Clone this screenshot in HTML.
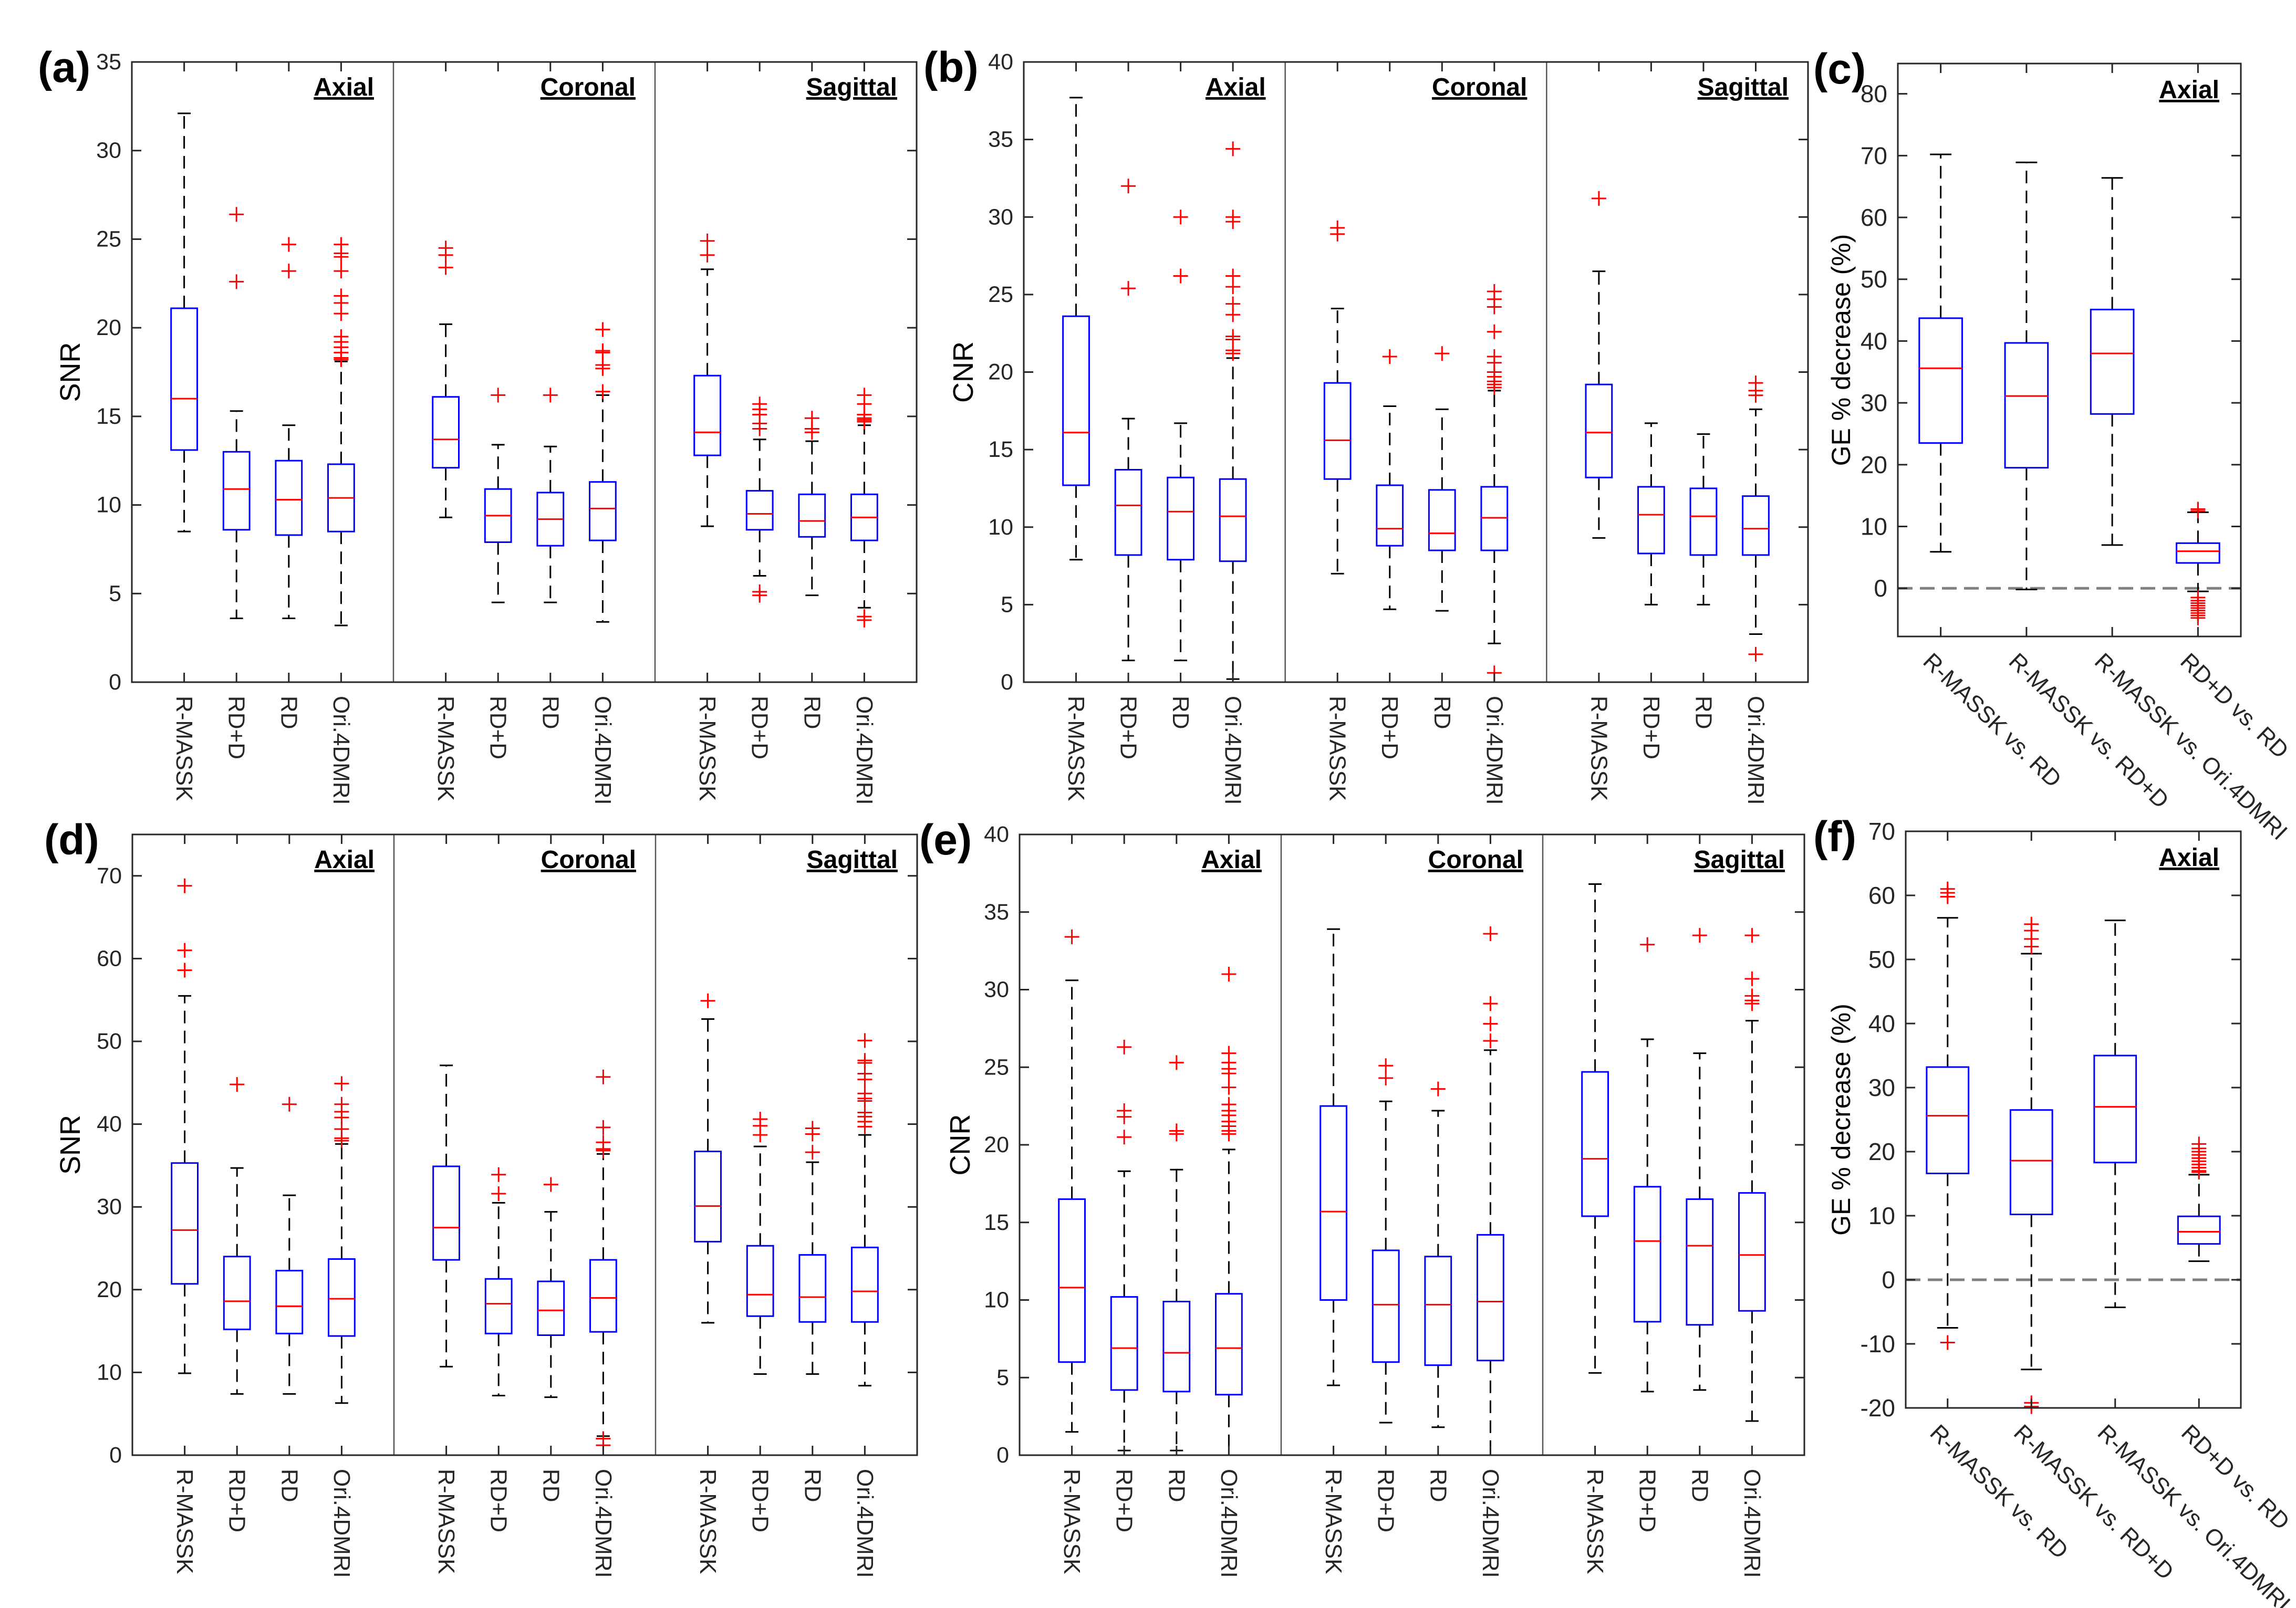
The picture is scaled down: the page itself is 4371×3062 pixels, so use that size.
<!DOCTYPE html>
<html><head><meta charset="utf-8"><title>Box plots</title>
<style>html,body{margin:0;padding:0;background:#fff}svg{display:block;font-family:"Liberation Sans",Arial,sans-serif}</style>
</head><body>
<svg id="fig" xmlns="http://www.w3.org/2000/svg" width="4371" height="3062" viewBox="0 0 4371 3062"></svg>
<script>
// ---------- DATA ----------
const boxCats = ["R-MASSK","RD+D","RD","Ori.4DMRI"];
const viewNames = ["Axial","Coronal","Sagittal"];
const geCats = ["R-MASSK vs. RD","R-MASSK vs. RD+D","R-MASSK vs. Ori.4DMRI","RD+D vs. RD"];

// (a) SNR
const aHi  = [32.1,15.3,14.5,18.1, 20.2,13.4,13.3,16.2, 23.3,13.7,13.6,14.5];
const aQ3  = [21.1,13.0,12.5,12.3, 16.1,10.9,10.7,11.3, 17.3,10.8,10.6,10.6];
const aMed = [16.0,10.9,10.3,10.4, 13.7,9.4,9.2,9.8, 14.1,9.5,9.1,9.3];
const aQ1  = [13.1,8.6,8.3,8.5, 12.1,7.9,7.7,8.0, 12.8,8.6,8.2,8.0];
const aLo  = [8.5,3.6,3.6,3.2, 9.3,4.5,4.5,3.4, 8.8,6.0,4.9,4.2];
const aOut = [[],[26.4,22.6],[24.7,23.2],[24.7,24.2,24.0,23.2,21.8,21.4,20.8,19.5,19.2,18.9,18.6,18.3,18.2],
  [24.5,24.1,23.4],[16.2],[16.2],[19.9,18.7,18.6,17.9,17.7,16.4],
  [24.9,24.1],[15.7,15.4,15.1,14.6,14.3,5.1,4.9],[14.9,14.3,14.1],[16.2,15.7,15.1,14.9,14.8,14.7,3.7,3.5]];
const aTicks = [0,5,10,15,20,25,30,35];

// (b) CNR
const bHi  = [37.7,17.0,16.7,20.9, 24.1,17.8,17.6,18.8, 26.5,16.7,16.0,17.6];
const bQ3  = [23.6,13.7,13.2,13.1, 19.3,12.7,12.4,12.6, 19.2,12.6,12.5,12.0];
const bMed = [16.1,11.4,11.0,10.7, 15.6,9.9,9.6,10.6, 16.1,10.8,10.7,9.9];
const bQ1  = [12.7,8.2,7.9,7.8, 13.1,8.8,8.5,8.5, 13.2,8.3,8.2,8.2];
const bLo  = [7.9,1.4,1.4,0.2, 7.0,4.7,4.6,2.5, 9.3,5.0,5.0,3.1];
const bOut = [[],[32.0,25.4],[30.0,26.2],[34.4,30.0,29.7,26.2,25.5,24.4,23.7,22.3,22.1,21.4,21.2],
  [29.3,28.9],[21.0],[21.2],[25.2,24.7,24.2,22.6,21.0,20.6,20.0,19.7,19.4,19.2,19.0,0.6],
  [31.2],[],[],[19.3,18.8,18.5,1.8]];
const bTicks = [0,5,10,15,20,25,30,35,40];

// (c) GE
const cHi  = [70.2,68.9,66.4,12.3];
const cQ3  = [43.7,39.7,45.1,7.3];
const cMed = [35.6,31.1,38.0,6.0];
const cQ1  = [23.5,19.5,28.2,4.1];
const cLo  = [5.9,-0.2,7.0,-0.5];
const cOut = [[],[],[],[12.5,12.8,-1.5,-2.0,-2.4,-2.8,-3.2,-3.6,-4.0,-4.4,-4.8]];
const cTicks = [0,10,20,30,40,50,60,70,80];

// (d) SNR
const dHi  = [55.5,34.7,31.4,37.6, 47.1,30.5,29.4,36.4, 52.7,37.3,35.4,38.7];
const dQ3  = [35.3,24.0,22.3,23.7, 34.9,21.3,21.0,23.6, 36.7,25.3,24.2,25.1];
const dMed = [27.2,18.6,18.0,18.9, 27.5,18.3,17.5,19.0, 30.1,19.4,19.1,19.8];
const dQ1  = [20.7,15.2,14.7,14.4, 23.6,14.7,14.5,14.9, 25.8,16.8,16.1,16.1];
const dLo  = [9.9,7.4,7.4,6.3, 10.7,7.2,7.0,2.3, 16.0,9.8,9.8,8.4];
const dOut = [[68.8,61.0,58.6],[44.8],[42.4],[44.9,42.4,41.5,40.8,39.4,38.3,38.0],
  [],[33.9,31.6],[32.7],[45.7,39.6,37.8,37.0,36.8,2.0,1.2],
  [54.9],[40.6,39.8,38.7],[39.5,38.8,36.6],[50.1,47.7,47.4,46.1,45.4,43.7,43.1,42.8,41.4,40.9,40.3,39.7]];
const dTicks = [0,10,20,30,40,50,60,70];

// (e) CNR
const eHi  = [30.6,18.3,18.4,19.7, 33.9,22.8,22.2,26.1, 36.8,26.8,25.9,28.0];
const eQ3  = [16.5,10.2,9.9,10.4, 22.5,13.2,12.8,14.2, 24.7,17.3,16.5,16.9];
const eMed = [10.8,6.9,6.6,6.9, 15.7,9.7,9.7,9.9, 19.1,13.8,13.5,12.9];
const eQ1  = [6.0,4.2,4.1,3.9, 10.0,6.0,5.8,6.1, 15.4,8.6,8.4,9.3];
const eLo  = [1.5,0.3,0.3,0.0, 4.5,2.1,1.8,0.0, 5.3,4.1,4.2,2.2];
const eOut = [[33.4],[26.3,22.2,21.8,20.5],[25.3,20.9,20.7],[31.0,25.9,25.3,24.9,24.6,23.7,22.6,22.2,21.9,21.5,21.2,20.9,20.7],
  [],[25.1,24.3],[23.6],[33.6,29.1,27.8,26.7],
  [],[32.9],[33.5],[33.5,30.7,29.6,29.3,29.1]];
const eTicks = [0,5,10,15,20,25,30,35,40];

// (f) GE
const fHi  = [56.5,50.9,56.1,16.4];
const fQ3  = [33.2,26.5,35.0,9.9];
const fMed = [25.6,18.6,27.0,7.5];
const fQ1  = [16.6,10.2,18.3,5.6];
const fLo  = [-7.5,-14.0,-4.3,2.9];
const fOut = [[61.0,60.4,59.8,-9.8],[55.5,54.5,53.2,52.0,-19.2,-19.8],[],[21.2,20.5,20.0,19.5,19.0,18.5,18.0,17.5,17.0,16.8]];
const fTicks = [-20,-10,0,10,20,30,40,50,60,70];

// ---------- DRAWING ----------
const NS = "http://www.w3.org/2000/svg";
const svg = document.getElementById('fig');
function mk(tag, attrs, parent){
  const el = document.createElementNS(NS, tag);
  for (const k in attrs) el.setAttribute(k, attrs[k]);
  (parent||svg).appendChild(el);
  return el;
}
const AX = "#262626";

function drawPanel(cfg, hi, q3, med, q1, lo, out, ticks, cats){
  const g = mk('g', {});
  
  
  const {x0,x1,y0,y1,vmin,vmax} = cfg;
  const yS = v => y1 - (v - vmin) / (vmax - vmin) * (y1 - y0);
  const nSlots = cfg.views ? 15 : 4;
  const slot = (x1 - x0) / nSlots;
  const xS = i => cfg.views ? x0 + (1 + i + Math.floor(i/4)) * slot : x0 + (i + 0.5) * slot;

  if (cfg.zero){
    const z = mk('line', {x1:x0, x2:x1, y1:yS(0), y2:yS(0), stroke:'#808080', 'stroke-width':5, 'stroke-dasharray':'28 14'}, g);
    
    
  }
  if (cfg.views){
    [5,10].forEach(k => {
      const s = mk('line', {x1:x0+k*slot, x2:x0+k*slot, y1:y0, y2:y1, stroke:'#555', 'stroke-width':2.5}, g);
      
      
    });
    viewNames.forEach((v,k) => {
      const t = mk('text', {x:x0+(k+1)*5*slot-37, y:y0+64, 'text-anchor':'end', 'font-size':48, 'font-weight':'bold', 'text-decoration':'underline', fill:'#000'}, g);
      t.textContent = v;
      
      
    });
  } else {
    const t = mk('text', {x:x1-41, y:y0+66, 'text-anchor':'end', 'font-size':48, 'font-weight':'bold', 'text-decoration':'underline', fill:'#000'}, g);
    t.textContent = 'Axial';
    
    
  }
  for (let i = 0; i < hi.length; i++){
    const cx = xS(i), bw = slot*0.5, cw = slot*0.25;
    const bg = mk('g', {}, g);
    
    
    mk('line', {x1:cx, x2:cx, y1:yS(q3[i]), y2:yS(hi[i]), stroke:'#000', 'stroke-width':3, 'stroke-dasharray':'24 14'}, bg);
    mk('line', {x1:cx, x2:cx, y1:yS(q1[i]), y2:yS(lo[i]), stroke:'#000', 'stroke-width':3, 'stroke-dasharray':'24 14'}, bg);
    mk('line', {x1:cx-cw/2, x2:cx+cw/2, y1:yS(hi[i]), y2:yS(hi[i]), stroke:'#000', 'stroke-width':3}, bg);
    mk('line', {x1:cx-cw/2, x2:cx+cw/2, y1:yS(lo[i]), y2:yS(lo[i]), stroke:'#000', 'stroke-width':3}, bg);
    mk('rect', {x:cx-bw/2, y:yS(q3[i]), width:bw, height:yS(q1[i])-yS(q3[i]), fill:'none', stroke:'#0000ff', 'stroke-width':3}, bg);
    mk('line', {x1:cx-bw/2, x2:cx+bw/2, y1:yS(med[i]), y2:yS(med[i]), stroke:'#ff0000', 'stroke-width':3}, bg);
    out[i].forEach(v => {
      const p = mk('path', {d:`M${cx-14},${yS(v)}H${cx+14}M${cx},${yS(v)-14}V${yS(v)+14}`, stroke:'#ff0000', 'stroke-width':3, fill:'none'}, bg);
      
      
    });
  }
  const fr = mk('rect', {x:x0, y:y0, width:x1-x0, height:y1-y0, fill:'none', stroke:AX, 'stroke-width':3}, g);
  
  
  ticks.forEach(v => {
    const y = yS(v);
    mk('line', {x1:x0, x2:x0+18, y1:y, y2:y, stroke:AX, 'stroke-width':3}, g);
    mk('line', {x1:x1, x2:x1-18, y1:y, y2:y, stroke:AX, 'stroke-width':3}, g);
    const t = mk('text', {x:x0-20, y:y, 'text-anchor':'end', 'dominant-baseline':'central', 'font-size':cfg.views?43:46, fill:AX}, g);
    t.textContent = v;
    
    
  });
  for (let i = 0; i < hi.length; i++){
    const cx = xS(i);
    mk('line', {x1:cx, x2:cx, y1:y1, y2:y1-18, stroke:AX, 'stroke-width':3}, g);
    mk('line', {x1:cx, x2:cx, y1:y0, y2:y0+18, stroke:AX, 'stroke-width':3}, g);
    let t;
    if (cfg.views){
      t = mk('text', {x:0, y:0, transform:`translate(${cx},${y1+26}) rotate(90)`, 'text-anchor':'start', 'dominant-baseline':'central', 'font-size':44, fill:AX}, g);
      t.textContent = cats[i % 4];
    } else {
      t = mk('text', {x:0, y:0, transform:`translate(${cx-26},${y1+40}) rotate(44)`, 'text-anchor':'start', 'dominant-baseline':'central', 'font-size':44, fill:AX}, g);
      t.textContent = cats[i];
    }
    
    
  }
  const yl = mk('text', {x:0, y:0, transform:`translate(${cfg.ylx},${(y0+y1)/2}) rotate(-90)`, 'text-anchor':'middle', 'dominant-baseline':'central', 'font-size':cfg.views?54:50, fill:'#000'}, g);
  yl.textContent = cfg.ylabel;
  
  
  const pl = mk('text', {x:cfg.lx, y:y0+38, 'font-size':82, 'font-weight':'bold', fill:'#000'}, g);
  pl.textContent = '(' + cfg.id + ')';
  
  
}

drawPanel({id:'a', x0:251, x1:1745, y0:118, y1:1299, vmin:0, vmax:35, views:true, ylabel:'SNR', ylx:134, lx:72}, aHi,aQ3,aMed,aQ1,aLo,aOut,aTicks,boxCats);
drawPanel({id:'b', x0:1949, x1:3442, y0:118, y1:1299, vmin:0, vmax:40, views:true, ylabel:'CNR', ylx:1834, lx:1758}, bHi,bQ3,bMed,bQ1,bLo,bOut,bTicks,boxCats);
drawPanel({id:'c', x0:3613, x1:4266, y0:121, y1:1212, vmin:-7.8, vmax:84.9, views:false, zero:true, ylabel:'GE % decrease (%)', ylx:3505, lx:3452}, cHi,cQ3,cMed,cQ1,cLo,cOut,cTicks,geCats);
drawPanel({id:'d', x0:252, x1:1746, y0:1589, y1:2771, vmin:0, vmax:75, views:true, ylabel:'SNR', ylx:134, lx:84}, dHi,dQ3,dMed,dQ1,dLo,dOut,dTicks,boxCats);
drawPanel({id:'e', x0:1941, x1:3435, y0:1589, y1:2771, vmin:0, vmax:40, views:true, ylabel:'CNR', ylx:1828, lx:1750}, eHi,eQ3,eMed,eQ1,eLo,eOut,eTicks,boxCats);
drawPanel({id:'f', x0:3628, x1:4266, y0:1583, y1:2681, vmin:-20, vmax:70, views:false, zero:true, ylabel:'GE % decrease (%)', ylx:3505, lx:3452}, fHi,fQ3,fMed,fQ1,fLo,fOut,fTicks,geCats);
</script>
</body></html>
